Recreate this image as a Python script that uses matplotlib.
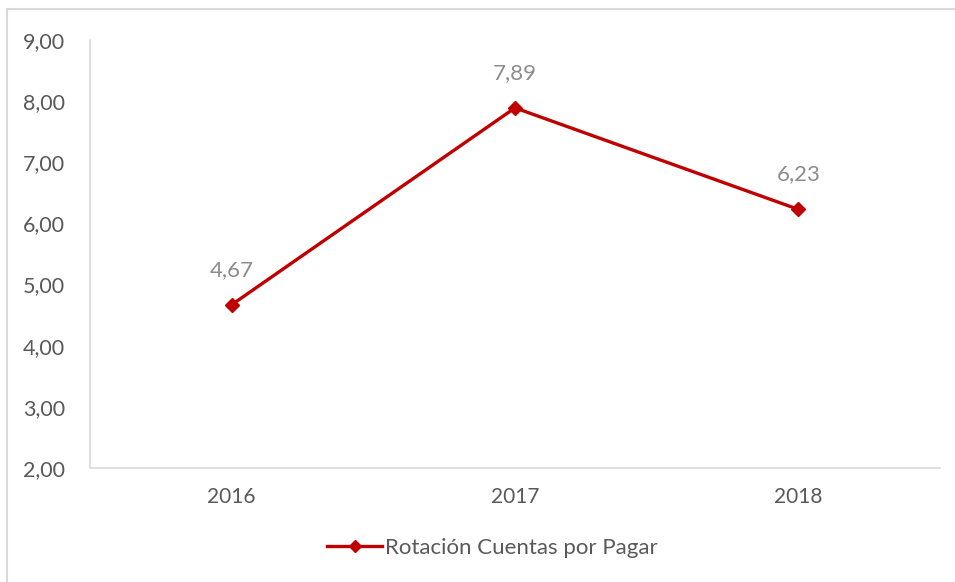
import matplotlib
matplotlib.use("Agg")
import matplotlib.pyplot as plt
from matplotlib.lines import Line2D

years = ["2016", "2017", "2018"]
values = [4.67, 7.89, 6.23]
value_labels = ["4,67", "7,89", "6,23"]
y_ticks = [2, 3, 4, 5, 6, 7, 8, 9]
series_name = "Rotación Cuentas por Pagar"

plt.rcParams['font.family'] = ['Lato', 'DejaVu Sans']

W, H = 955, 582
fig = plt.figure(figsize=(W / 100, H / 100), dpi=100)
ax = fig.add_axes([90 / W, 1 - 468 / H, 850 / W, (468 - 40) / H])

x = list(range(len(years)))
ax.plot(x, values, color="#c00000", lw=2.4, marker="D", markersize=7,
        label=series_name)
for xi, v, lab in zip(x, values, value_labels):
    ax.annotate(lab, (xi, v), xytext=(0, 18), textcoords="offset points",
                ha="center", va="bottom", fontsize=16, color="#8c8c8c")

ax.set_xlim(-0.5, 2.5)
ax.set_ylim(2, 9)
ax.set_yticks(y_ticks)
ax.set_yticklabels([f"{t:.2f}".replace(".", ",") for t in y_ticks])
ax.set_xticks(x)
ax.set_xticklabels(years)
ax.tick_params(axis="both", length=0, colors="#595959", labelsize=15.5)
ax.tick_params(axis="y", pad=18)
ax.tick_params(axis="x", pad=14)
for lbl in ax.get_xticklabels():
    lbl.set_fontsize(15)

for s in ["top", "right"]:
    ax.spines[s].set_visible(False)
for s in ["left", "bottom"]:
    ax.spines[s].set_color("#d9d9d9")
    ax.spines[s].set_linewidth(1.2)

leg = fig.legend(handles=[Line2D([0], [0], color="#c00000", lw=2.4, marker="D", markersize=6)],
                 labels=[series_name], loc="center", bbox_to_anchor=(492 / W, 1 - 548 / H),
                 frameon=False, fontsize=16, handlelength=2.5, handletextpad=0.1)
for t in leg.get_texts():
    t.set_color("#595959")

# outer frame (top and left)
fig.add_artist(Line2D([7 / W, 1], [1 - 9 / H, 1 - 9 / H], color="#d9d9d9", lw=1.5,
                      transform=fig.transFigure))
fig.add_artist(Line2D([7 / W, 7 / W], [0, 1 - 9 / H], color="#d9d9d9", lw=1.5,
                      transform=fig.transFigure))

fig.savefig("out.png", dpi=100, facecolor="white")
